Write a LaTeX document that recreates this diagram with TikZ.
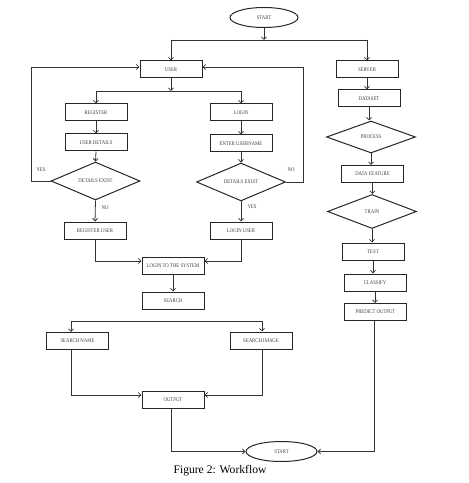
\documentclass[tikz,border=0pt]{standalone}
\usepackage{fontspec}
\setmainfont{Liberation Serif}
\newfontfamily\boxfam[FakeStretch=0.85]{Liberation Serif}
\usetikzlibrary{arrows.meta,shapes.geometric}
\newcommand{\boxfont}{\boxfam\fontsize{5.6bp}{6bp}\selectfont}
\begin{document}
\begin{tikzpicture}[x=1bp,y=-1bp,
  line/.style={draw=black!80, line width=0.8bp},
  arr/.style={line, -{Straight Barb[length=2.6bp,width=5bp]}},
  box/.style={draw=black!85, line width=1bp, minimum width=62bp, minimum height=17bp, inner sep=0pt, font=\boxfont, text=black!75},
  dec/.style={diamond, draw=black!85, line width=1bp, minimum width=89bp, minimum height=32bp, inner sep=0pt, font=\boxfont, text=black!75},
  term/.style={ellipse, draw=black!85, line width=1bp, minimum width=68bp, minimum height=20bp, inner sep=0pt, font=\boxfont, text=black!75},
  lbl/.style={font=\boxfont, text=black!75}]
\useasboundingbox (0,0) rectangle (469,483);

% nodes
\node[term] (start1) at (264,17.5) {START};
\node[box] (user) at (171,69.5) {USER};
\node[box] (server) at (367,69.5) {SERVER};
\node[box] (register) at (96,112.5) {REGISTER};
\node[box] (login) at (241,112.5) {LOGIN};
\node[box] (udetails) at (96,142.5) {USER DETAILS};
\node[box] (enteruser) at (241,143.5) {ENTER USERNAME};
\node[dec] (dexist1) at (95.5,181) {DETAILS EXIST};
\node[dec] (dexist2) at (241,182) {DETAILS EXIST};
\node[box] (reguser) at (95,230.5) {REGISTER USER};
\node[box] (loginuser) at (241,230.5) {LOGIN USER};
\node[box] (lts) at (173,265.5) {LOGIN TO THE SYSTEM};
\node[box] (search) at (173,300.5) {SEARCH};
\node[box] (sname) at (77.5,341) {SEARCH NAME};
\node[box] (simage) at (261,340.5) {SEARCH IMAGE};
\node[box] (output) at (173,399.5) {OUTPUT};
\node[term, minimum height=20bp, minimum width=71bp] (start2) at (281.5,451.5) {START};

\node[box] (dataset) at (369,98.5) {DATASET};
\node[dec] (process) at (371,137) {PROCESS};
\node[box] (datafeature) at (372.5,174) {DATA FEATURE};
\node[dec, minimum height=34bp] (train) at (372,211.5) {TRAIN};
\node[box] (test) at (373,251.5) {TEST};
\node[box] (classify) at (375,282.5) {CLASSIFY};
\node[box] (predict) at (375.5,312) {PREDICT OUTPUT};

\node[font=\fontsize{11.6bp}{13bp}\selectfont, anchor=base, inner sep=0pt] (caption) at (220,473) {Figure 2: Workflow};

% coordinates
\coordinate (split1) at (264,40);
\coordinate (split2) at (171,91);
\coordinate (loopL) at (31,67);
\coordinate (loopR) at (303,67);
\coordinate (s3L) at (71,321);
\coordinate (s3R) at (262,321);
\coordinate (joinLTS) at (173,261);
\coordinate (joinOUT) at (173,395);
\coordinate (bottom) at (374,451.5);

% connectors
\draw[arr] (start1.south) -- (split1);
\draw[line] (user.north |- split1) -- (server.north |- split1);
\draw[arr] (user.north |- split1) -- (user.north);
\draw[arr] (server.north |- split1) -- (server.north);

\draw[arr] (user.south) -- (split2);
\draw[line] (register.north |- split2) -- (login.north |- split2);
\draw[arr] (register.north |- split2) -- (register.north);
\draw[arr] (login.north |- split2) -- (login.north);

\draw[arr] (register.south) -- (udetails.north);
\draw[arr] (udetails.south) -- (dexist1.north);
\draw[arr] (dexist1.south) -- (reguser.north);
\draw[line] (dexist1.west) -| (loopL);
\draw[arr] (loopL) -- (user.west |- loopL);

\draw[arr] (login.south) -- (enteruser.north);
\draw[arr] (enteruser.south) -- (dexist2.north);
\draw[arr] (dexist2.south) -- (loginuser.north);
\draw[line] (dexist2.east) -| (loopR);
\draw[arr] (loopR) -- (user.east |- loopR);

\node[lbl] (yes1) at (41,169.5) {YES};
\node[lbl] (no1) at (105,208) {NO};
\node[lbl] (yes2) at (252,207) {YES};
\node[lbl] (no2) at (291,169.5) {NO};

\draw[arr] (reguser.south) |- (lts.west |- joinLTS);
\draw[arr] (loginuser.south) |- (lts.east |- joinLTS);
\draw[arr] (lts.south) -- (search.north);

\draw[line] (s3L) -- (s3R);
\draw[arr] (s3L) -- (s3L |- sname.north);
\draw[arr] (s3R) -- (s3R |- simage.north);
\draw[arr] (sname.south -| s3L) |- (output.west |- joinOUT);
\draw[arr] (simage.south -| s3R) |- (output.east |- joinOUT);
\draw[arr] ([xshift=-2bp]output.south) |- (start2.west);

\draw[arr] (server.south) -- (server.south |- dataset.north);
\draw[arr] (dataset.south) -- (dataset.south |- process.north);
\draw[arr] (process.south) -- (process.south |- datafeature.north);
\draw[arr] (datafeature.south) -- (datafeature.south |- train.north);
\draw[arr] (train.south) -- (train.south |- test.north);
\draw[arr] (test.south) -- (test.south |- classify.north);
\draw[arr] (classify.south) -- (classify.south |- predict.north);
\draw[line] (predict.south -| bottom) -- (bottom);
\draw[arr] (bottom) -- (start2.east);
\end{tikzpicture}
\end{document}
